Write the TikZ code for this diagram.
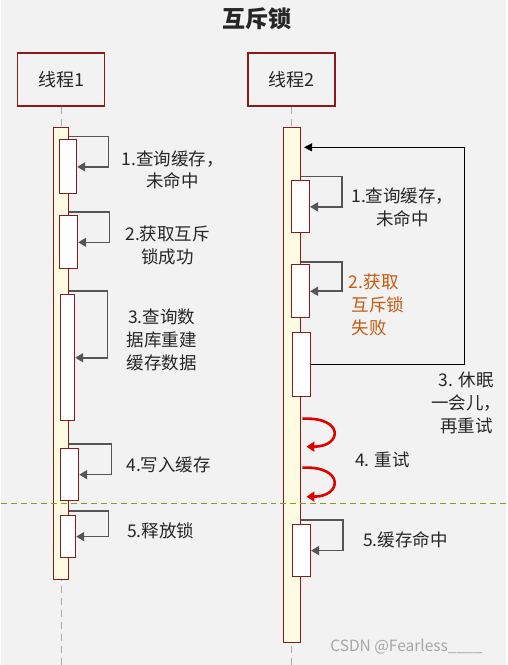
\documentclass[tikz,border=0pt]{standalone}
\usepackage{fontspec}
\setmainfont{Noto Sans CJK SC}
\usetikzlibrary{arrows.meta}
\definecolor{pagebg}{HTML}{F2F2F2}
\definecolor{darkred}{HTML}{8B1A1A}
\definecolor{barfill}{HTML}{FFFBE2}
\definecolor{ink}{HTML}{262626}
\definecolor{arrowgray}{HTML}{555555}
\definecolor{failorange}{HTML}{C55A11}
\definecolor{retryred}{HTML}{E00000}
\definecolor{dividergreen}{HTML}{8A9A22}
\definecolor{lifegray}{HTML}{ABABAB}
\definecolor{creditgray}{HTML}{A6A6A6}
\tikzset{
  every node/.append style={text=ink},
  title/.style={font=\fontsize{23}{26}\selectfont\bfseries},
  thread/.style={
    draw=darkred,
    line width=1.2pt,
    fill=pagebg,
    minimum width=87pt,
    minimum height=53pt,
    font=\fontsize{18}{20}\selectfont,
  },
  bar/.style={draw=darkred, fill=barfill, line width=1.1pt, inner sep=0pt},
  act/.style 2 args={
    draw=darkred,
    fill=white,
    line width=1.1pt,
    inner sep=0pt,
    minimum width=#1,
    minimum height=#2,
  },
  lifeline/.style={lifegray, line width=1pt, dash pattern=on 7pt off 5pt},
  selfcall/.style={arrowgray, line width=1.6pt, -{Triangle[length=8pt,width=9pt]}},
  loopback/.style={black, line width=0.9pt, -{Triangle[length=8pt,width=8pt]}},
  retry/.style={retryred, line width=2.6pt, -{Triangle[length=8pt,width=10pt]}},
  divider/.style={dividergreen, line width=1.4pt, dash pattern=on 6pt off 4pt},
  step label/.style={font=\fontsize{17.5}{23}\selectfont, align=center},
}

\begin{document}
\begin{tikzpicture}[x=1pt,y=-1pt]
  \fill[pagebg] (0,0) rectangle (506,665);

  \node[title] (title) at (256,19) {互斥锁};

  % the two threads
  \node[thread] (t1) at (60.5,79.5) {线程1};
  \node[thread] (t2) at (291,79.5) {线程2};
  \coordinate (foot1) at (60.5,665);
  \coordinate (foot2) at (291,665);
  \draw[lifeline] (t1.south) -- (foot1);
  \draw[lifeline] (t2.south) -- (foot2);

  % activation bars
  \node[bar, minimum width=15pt, minimum height=452pt] (bar1) at (60,354) {};
  \node[bar, minimum width=17pt, minimum height=515pt] (bar2) at (291.5,385.5) {};

  % thread 1
  \node[act={17pt}{54pt}] (a1) at (67.5,167) {};
  \node[act={18pt}{53pt}] (a2) at (68,242.5) {};
  \node[act={14pt}{126pt}] (a3) at (67,358) {};
  \node[act={18pt}{52pt}] (a4) at (69,475) {};
  \node[act={15pt}{42pt}] (a5) at (67.5,537) {};

  \draw[selfcall] ([yshift=3pt]a1.north -| bar1.east) -- ++(40,0) |- (a1.east);
  \draw[selfcall] ([yshift=3pt]a2.north -| bar1.east) -- ++(41,0) |- (a2.east);
  \draw[selfcall] ([yshift=3pt]a3.north -| bar1.east) -- ++(39,0) |- (a3.east);
  \draw[selfcall] ([yshift=4pt]a4.north -| bar1.east) -- ++(43,0) |- (a4.east);
  \draw[selfcall] ([yshift=4pt]a5.north -| bar1.east) -- ++(40,0) |- (a5.east);

  \node[step label] (l1) at (172,170) {1.查询缓存，\\未命中};
  \node[step label] (l2) at (167,246) {2.获取互斥\\锁成功};
  \node[step label] (l3) at (161,340) {3.查询数\\据库重建\\缓存数据};
  \node[step label] (l4) at (168,465) {4.写入缓存};
  \node[step label] (l5) at (160,531) {5.释放锁};

  % thread 2
  \node[act={18pt}{52pt}] (b1) at (300,207) {};
  \node[act={18pt}{53pt}] (b2) at (300,291.5) {};
  \node[act={18pt}{64pt}] (b3) at (301,365) {};
  \node[act={18pt}{52pt}] (b5) at (301,551) {};

  \draw[selfcall] ([yshift=4pt]b1.north -| bar2.east) -- ++(41,0) |- (b1.east);
  \draw[selfcall] ([yshift=2pt]b2.north -| bar2.east) -- ++(41,0) |- (b2.east);
  \draw[selfcall] ([yshift=4pt]b5.north -| bar2.east) -- ++(42,0) |- (b5.east);
  \draw[loopback] (b3.east) -- ++(154,0) |- ([shift={(3pt,-20pt)}]bar2.north east);

  \coordinate (r1a) at (302,419);
  \coordinate (r1b) at (306,447);
  \coordinate (r2a) at (302,468);
  \coordinate (r2b) at (306,497);
  \draw[retry] (r1a) .. controls (344,417) and (342,447) .. (r1b);
  \draw[retry] (r2a) .. controls (344,466) and (342,497) .. (r2b);

  \node[step label] (m1) at (402,208) {1.查询缓存，\\未命中};
  \node[step label, align=left, anchor=west, text=failorange] (m2) at (345,305) {2.获取\\\,互斥锁\\\,失败};
  \node[step label] (m3) at (466,403) {3. 休眠\\一会儿，\\再重试};
  \node[step label] (m4) at (382,460) {4. 重试};
  \node[step label] (m5) at (405,540) {5.缓存命中};

  % divider
  \draw[divider] (0,504) -- (506,504);

  \node[font=\fontsize{15.5}{17}\selectfont, text=creditgray] (credit) at (406,647) {CSDN @Fearless\_\_\_\_};
\end{tikzpicture}
\end{document}
